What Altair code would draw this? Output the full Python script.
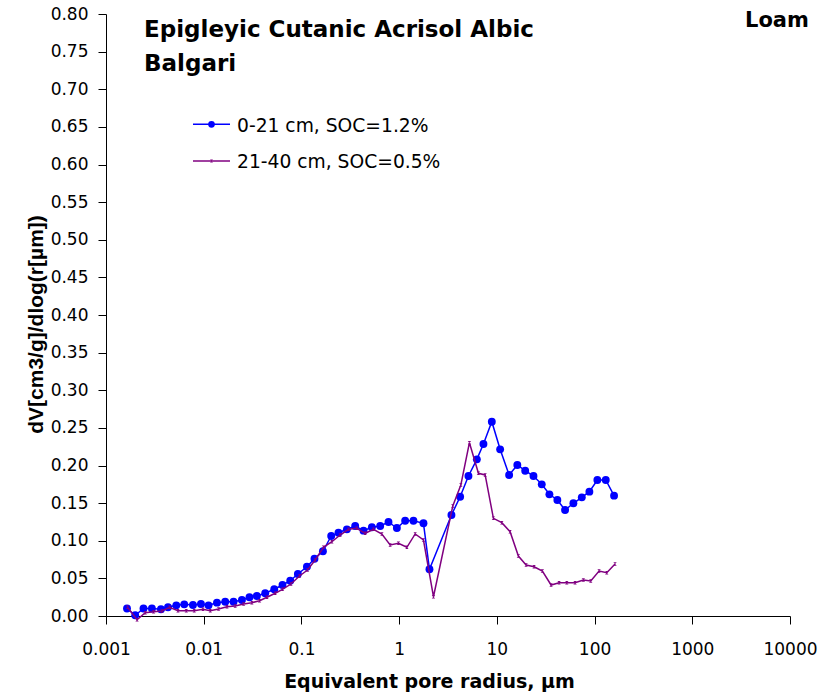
import altair as alt
import pandas as pd

# ---------------- data ----------------
series_names = ["0-21 cm, SOC=1.2%", "21-40 cm, SOC=0.5%"]

blue_x = [0.00164, 0.00199, 0.00242, 0.00295, 0.00365, 0.00431, 0.00524, 0.00632,
          0.00776, 0.00937, 0.0112, 0.01366, 0.0166, 0.0202, 0.0246, 0.0294, 0.0350,
          0.0426, 0.0527, 0.0640, 0.0768, 0.0920, 0.1138, 0.136, 0.166, 0.2017, 0.2394,
          0.292, 0.355, 0.432, 0.526, 0.640, 0.778, 0.948, 1.152, 1.401, 1.774, 2.043,
          3.43, 4.21, 5.12, 6.24, 7.29, 8.88, 10.8, 13.35, 16.2, 19.5, 23.7, 28.8, 34.5,
          41.6, 49.9, 60.7, 74.0, 88.5, 106.8, 130.2, 158.3]
blue_y = [0.010, 0.001, 0.010, 0.010, 0.009, 0.0116, 0.0142, 0.0155, 0.0146, 0.016,
          0.0142, 0.0177, 0.019, 0.019, 0.0213, 0.0249, 0.0266, 0.0302, 0.0355, 0.0412,
          0.0469, 0.0558, 0.0655, 0.0761, 0.086, 0.1063, 0.1107, 0.1152, 0.1196, 0.1134,
          0.1179, 0.1196, 0.1249, 0.1169, 0.1266, 0.1266, 0.1232, 0.0621, 0.1342, 0.1585,
          0.186, 0.2082, 0.2286, 0.2582, 0.2215, 0.1874, 0.2007, 0.1931, 0.186, 0.175,
          0.1617, 0.1542, 0.1409, 0.1498, 0.1577, 0.1652, 0.1807, 0.1807, 0.1599]

purple_x = [0.00166, 0.00208, 0.00252, 0.00307, 0.00374, 0.00447, 0.00545, 0.00663,
            0.0080, 0.00982, 0.01167, 0.01418, 0.0173, 0.0210, 0.0256, 0.0311, 0.0373,
            0.0444, 0.0539, 0.0640, 0.0781, 0.0956, 0.1154, 0.1383, 0.1682, 0.205, 0.249,
            0.303, 0.369, 0.449, 0.546, 0.666, 0.809, 0.984, 1.20, 1.459, 1.774, 2.245,
            3.54, 4.28, 5.24, 6.48, 7.59, 9.22, 11.24, 13.66, 16.61, 19.93, 24.05, 29.24,
            35.89, 43.33, 51.96, 63.15, 76.8, 91.4, 111.2, 133.3, 162.0]
purple_y = [0.0116, -0.005, 0.0044, 0.0057, 0.0066, 0.0116, 0.0070, 0.0070, 0.0070,
            0.0089, 0.0070, 0.0093, 0.0124, 0.0133, 0.0159, 0.0177, 0.0203, 0.0249,
            0.0302, 0.0355, 0.0425, 0.0532, 0.0611, 0.0744, 0.0913, 0.0987, 0.1076,
            0.1152, 0.1165, 0.1099, 0.1152, 0.1090, 0.0944, 0.0966, 0.0913, 0.1090,
            0.1010, 0.0256, 0.1462, 0.1741, 0.2303, 0.1896, 0.1874, 0.1298, 0.1240,
            0.1120, 0.0797, 0.0678, 0.0655, 0.0598, 0.0412, 0.0443, 0.0443, 0.0443,
            0.0478, 0.0465, 0.0598, 0.0575, 0.0691]

x_ticks = [0.001, 0.01, 0.1, 1, 10, 100, 1000, 10000]
y_ticks = [round(i * 0.05, 2) for i in range(17)]

title_lines = ["Epigleyic Cutanic Acrisol Albic", "Balgari"]
texture_label = "Loam"
x_title = "Equivalent pore radius, \u00b5m"
y_title = "dV[cm3/g]/dlog(r[\u00b5m])"

BLUE = "#0000FF"
PURPLE = "#800080"

# ---------------- build ----------------
W, H = 684, 602

blue_df = pd.DataFrame({"r": blue_x, "v": blue_y, "s": series_names[0]})
purple_df = pd.DataFrame({"r": purple_x, "v": purple_y, "s": series_names[1]})

xscale = alt.Scale(type="log", domain=[0.001, 10000], nice=False)
yscale = alt.Scale(domain=[0, 0.8], nice=False, zero=False)

x_axis = alt.Axis(
    values=x_ticks, format="~g", title=x_title, grid=False,
    tickSize=8, labelPadding=17, labelFont="DejaVu Sans", labelFontSize=17,
    labelColor="black", domainColor="black", tickColor="black",
    labelOverlap=False, labelFlush=False,
    titleFont="DejaVu Sans", titleFontSize=19, titleFontWeight="bold",
    titleColor="black", titleX=323, titleY=71, titleAlign="center",
    titleBaseline="alphabetic")
y_axis = alt.Axis(
    values=y_ticks, format=".2f", title=y_title, grid=False,
    tickSize=8, labelPadding=10, labelFont="DejaVu Sans", labelFontSize=17,
    labelColor="black", domainColor="black", tickColor="black",
    labelOverlap=False, labelFlush=False,
    titleFont="Liberation Sans", titleFontSize=21, titleFontWeight="bold",
    titleColor="black", titleX=-70, titleY=310, titleAngle=270,
    titleAlign="center", titleBaseline="middle")

def xe():
    return alt.X("r:Q", scale=xscale, axis=x_axis)

def ye():
    return alt.Y("v:Q", scale=yscale, axis=y_axis)

hourglass = "M-1,-1L1,-1L-1,1L1,1Z"

blue_line = alt.Chart(blue_df).mark_line(color=BLUE, strokeWidth=1.5, clip=False).encode(
    x=xe(), y=ye())
blue_pts = alt.Chart(blue_df).mark_point(filled=True, color=BLUE, size=62, opacity=1,
                                         shape="circle", clip=False).encode(
    x=xe(), y=ye())
purple_line = alt.Chart(purple_df).mark_line(color=PURPLE, strokeWidth=1.5, clip=False).encode(
    x=xe(), y=ye())
purple_pts = alt.Chart(purple_df).mark_point(filled=True, color=PURPLE, size=12, opacity=1,
                                             shape=hourglass, clip=False).encode(
    x=xe(), y=ye())

def text_layer(txt, x, y, size, bold=True, font="DejaVu Sans"):
    return alt.Chart(pd.DataFrame({"t": [txt]})).mark_text(
        align="left", baseline="alphabetic", font=font, fontSize=size,
        fontWeight="bold" if bold else "normal", color="black").encode(
        x=alt.value(x), y=alt.value(y), text="t:N")

title1 = text_layer(title_lines[0], 38, 23, 23)
title2 = text_layer(title_lines[1], 38, 57, 23)
loam = text_layer(texture_label, 639, 13, 21)

# legend
leg_rows = [(series_names[0], BLUE, 110.3, 117.7, "circle", 45),
            (series_names[1], PURPLE, 147, 153.5, hourglass, 9)]
legend_layers = []
for name, col, ly, ty, shp, sz in leg_rows:
    d = pd.DataFrame({"t": [name]})
    legend_layers.append(alt.Chart(d).mark_rule(color=col, strokeWidth=1.5).encode(
        x=alt.value(87), x2=alt.value(124), y=alt.value(ly)))
    legend_layers.append(alt.Chart(d).mark_point(filled=True, color=col, opacity=1,
                                                 size=sz, shape=shp).encode(
        x=alt.value(105.5), y=alt.value(ly)))
    legend_layers.append(alt.Chart(d).mark_text(
        align="left", baseline="alphabetic", font="DejaVu Sans", fontSize=18.7,
        color="black").encode(x=alt.value(131), y=alt.value(ty), text="t:N"))

chart = alt.layer(
    blue_line, blue_pts, purple_line, purple_pts,
    title1, title2, loam, *legend_layers
).properties(
    width=W, height=H,
    autosize=alt.AutoSizeParams(type="none"),
    padding={"left": 106, "top": 14, "right": 42, "bottom": 77},
    background="white"
).configure_view(stroke=None).configure_axis(domainWidth=1, tickWidth=1)

chart.save("out.html", embed_options={"renderer": "svg", "actions": False})
